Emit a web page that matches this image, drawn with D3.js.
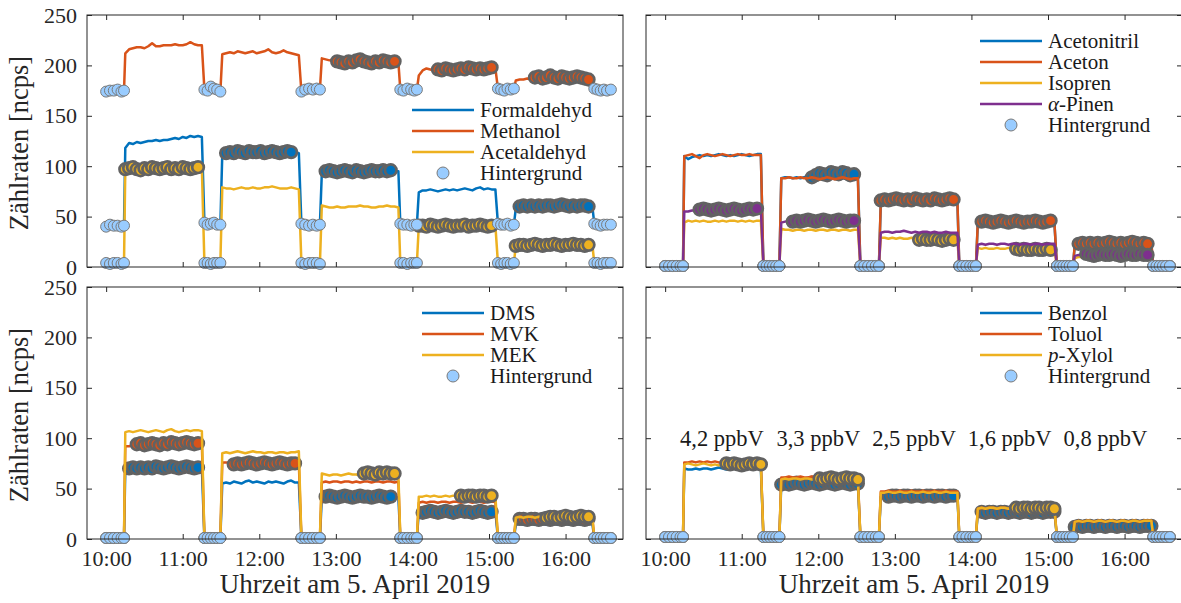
<!DOCTYPE html>
<html>
<head>
<meta charset="utf-8">
<script src="https://cdn.jsdelivr.net/npm/d3@7"></script>
<style>
  body { margin: 0; background: #fff; }
  svg { display: block; }
  svg text { font-family: 'Liberation Serif', 'DejaVu Serif', serif; }
</style>
</head>
<body>
<div id="chart"></div>
<script>

// Time axis: minutes after 10:00 (background blocks of 6 points, plateaus every 3 min)
const minutes = [
  0, 3, 6, 9, 12, 14,
  15, 18, 21, 24, 27, 30, 33, 36, 39, 42, 45, 48, 51, 54, 57, 60, 63, 66, 69, 72, 75,
  77, 79.5, 82, 84.5, 87, 89.5,
  91, 94, 97, 100, 103, 106, 109, 112, 115, 118, 121, 124, 127, 130, 133, 136, 139, 142, 145, 148, 151,
  153, 156, 159, 162, 165, 167.5,
  169, 172, 175, 178, 181, 184, 187, 190, 193, 196, 199, 202, 205, 208, 211, 214, 217, 220, 223, 226, 229,
  230.5, 233, 236, 239, 241.5, 243.5,
  245, 248, 251, 254, 257, 260, 263, 266, 269, 272, 275, 278, 281, 284, 287, 290, 293, 296, 299, 302, 305,
  307, 309.5, 312, 314.5, 317, 319.5,
  321, 324, 327, 330, 333, 336, 339, 342, 345, 348, 351, 354, 357, 360, 363, 366, 369, 372, 375, 378, 381,
  382.5, 385, 387.5, 390, 392.5, 395.5
];

// background (Hintergrund) time windows, minutes after 10:00
const bgWindows = [ [0, 14], [77, 90], [153, 168], [230, 244], [307, 320], [382, 396] ];

const hourTicks = [ 0, 60, 120, 180, 240, 300, 360 ];
const hourLabels = [ '10:00', '11:00', '12:00', '13:00', '14:00', '15:00', '16:00' ];
const countTicks = [ 0, 50, 100, 150, 200, 250 ];

// ---- top left
const formaldehyd = [
  40, 42, 41, 41, 40, 41,
  118, 123, 122, 124, 123, 124, 125, 125, 126, 125, 126, 126, 127, 128, 127, 129, 128, 130, 129, 130, 129,
  44, 42, 43, 44, 42, 42,
  112, 113, 114, 113, 115, 114, 113, 115, 114, 114, 115, 113, 114, 115, 114, 113, 114, 115, 114, 114, 113,
  43, 42, 41, 42, 41, 42,
  93, 95, 96, 95, 94, 95, 96, 95, 94, 96, 95, 94, 95, 96, 95, 95, 96, 95, 96, 95, 95,
  43, 42, 42, 41, 42, 42,
  74, 76, 76, 77, 76, 75, 76, 77, 76, 77, 76, 77, 78, 77, 76, 78, 79, 77, 78, 77, 77,
  43, 42, 42, 43, 41, 42,
  58, 60, 61, 60, 61, 60, 61, 60, 61, 61, 60, 61, 62, 61, 60, 61, 60, 61, 61, 60, 60,
  43, 42, 41, 42, 42, 42
];
const formaldehydMarks = [ [94, 147], [171, 225], [324, 378] ];

const methanol = [
  174, 175, 175, 176, 174, 175,
  212, 216, 217, 218, 218, 217, 219, 222, 219, 219, 220, 220, 220, 221, 220, 220, 221, 223, 221, 220, 220,
  176, 175, 179, 177, 176, 174,
  211, 212, 213, 212, 214, 213, 212, 213, 214, 212, 213, 214, 216, 213, 212, 213, 215, 213, 212, 211, 210,
  174, 176, 177, 176, 177, 176,
  207, 206, 205, 206, 204, 203, 202, 204, 203, 205, 206, 204, 203, 202, 204, 203, 205, 204, 203, 204, 203,
  176, 175, 177, 176, 175, 176,
  190, 195, 197, 196, 195, 196, 195, 197, 196, 195, 196, 197, 196, 198, 197, 196, 197, 196, 197, 198, 197,
  177, 176, 175, 177, 176, 177,
  185, 186, 186, 187, 186, 188, 189, 187, 188, 190, 188, 187, 189, 188, 187, 188, 189, 188, 187, 186, 186,
  177, 176, 175, 176, 175, 176
];
const methanolMarks = [ [180, 226], [259, 302], [334, 378] ];

const acetaldehyd = [
  4, 3, 4, 4, 3, 4,
  97, 98, 99, 97, 96, 98, 97, 99, 98, 97, 98, 99, 97, 98, 97, 99, 98, 97, 98, 99, 98,
  4, 4, 3, 4, 4, 4,
  79, 78, 78, 77, 78, 79, 78, 78, 79, 78, 78, 79, 79, 80, 79, 78, 78, 78, 79, 78, 77,
  4, 3, 4, 4, 4, 3,
  61, 60, 59, 59, 60, 59, 59, 60, 60, 60, 61, 60, 60, 59, 59, 60, 60, 61, 60, 60, 59,
  4, 4, 3, 4, 4, 4,
  41, 41, 40, 42, 41, 40, 41, 42, 41, 40, 41, 41, 42, 40, 41, 41, 42, 41, 40, 41, 41,
  4, 3, 4, 4, 3, 4,
  21, 22, 22, 21, 22, 23, 22, 21, 22, 22, 23, 22, 21, 22, 22, 23, 22, 22, 21, 22, 22,
  4, 4, 3, 4, 4, 4
];
const acetaldehydMarks = [ [15, 73], [245, 303], [321, 378] ];

// ---- top right
const acetonitril = [
  1, 1, 1, 1, 1, 1,
  110, 107, 109, 110, 111, 110, 111, 110, 111, 112, 111, 110, 111, 110, 111, 112, 111, 110, 111, 112, 112,
  1, 1, 1, 1, 1, 1,
  88, 89, 89, 88, 89, 88, 89, 90, 89, 91, 93, 92, 91, 94, 93, 92, 94, 93, 91, 92, 92,
  1, 1, 1, 1, 1, 1,
  64, 65, 66, 65, 66, 65, 66, 66, 65, 66, 65, 66, 66, 65, 66, 66, 65, 66, 66, 65, 65,
  1, 1, 1, 1, 1, 1,
  43, 44, 44, 43, 44, 44, 45, 44, 43, 44, 45, 44, 44, 43, 44, 45, 44, 44, 43, 44, 44,
  1, 1, 1, 1, 1, 1,
  21, 22, 23, 22, 22, 23, 22, 23, 22, 23, 22, 22, 23, 22, 22, 23, 22, 22, 23, 22, 22,
  1, 1, 1, 1, 1, 1
];
const acetonitrilMarks = [ [115, 150] ];

const aceton = [
  1, 1, 1, 1, 1, 1,
  110, 111, 112, 110, 108, 111, 112, 111, 110, 111, 112, 111, 110, 111, 112, 111, 111, 112, 111, 111, 111,
  1, 1, 1, 1, 1, 1,
  88, 88, 89, 88, 88, 89, 88, 88, 89, 88, 87, 88, 89, 88, 87, 88, 89, 88, 87, 88, 88,
  1, 1, 1, 1, 1, 1,
  66, 67, 66, 67, 68, 67, 66, 67, 66, 68, 67, 66, 67, 66, 68, 67, 66, 67, 68, 67, 67,
  1, 1, 1, 1, 1, 1,
  44, 45, 46, 45, 44, 45, 46, 45, 44, 45, 46, 45, 44, 45, 45, 46, 45, 44, 45, 46, 45,
  1, 1, 1, 1, 1, 1,
  22, 23, 24, 23, 24, 23, 24, 23, 24, 25, 24, 23, 24, 23, 24, 25, 24, 23, 24, 23, 24,
  1, 1, 1, 1, 1, 1
];
const acetonMarks = [ [169, 227], [246, 304], [323, 379] ];

const isopren = [
  1, 1, 1, 1, 1, 1,
  44, 46, 45, 46, 45, 46, 45, 45, 46, 45, 46, 45, 46, 46, 45, 46, 45, 46, 45, 46, 46,
  1, 1, 1, 1, 1, 1,
  38, 37, 37, 36, 37, 37, 36, 37, 37, 36, 37, 37, 36, 37, 37, 36, 37, 37, 36, 37, 37,
  1, 1, 1, 1, 1, 1,
  29, 29, 28, 29, 28, 29, 28, 28, 29, 28, 27, 28, 27, 27, 28, 27, 26, 27, 28, 27, 27,
  1, 1, 1, 1, 1, 1,
  19, 18, 19, 18, 18, 19, 18, 18, 19, 18, 18, 17, 18, 17, 17, 18, 17, 17, 18, 17, 17,
  1, 1, 1, 1, 1, 1,
  9, 10, 10, 9, 10, 10, 9, 10, 10, 9, 10, 10, 9, 10, 10, 9, 10, 10, 9, 10, 10,
  1, 1, 1, 1, 1, 1
];
const isoprenMarks = [ [198, 226], [275, 304] ];

const pinen = [
  1, 1, 1, 1, 1, 1,
  55, 55, 56, 56, 57, 58, 57, 56, 57, 58, 57, 56, 57, 58, 57, 56, 57, 58, 57, 58, 57,
  1, 1, 1, 1, 1, 1,
  44, 45, 46, 45, 46, 45, 46, 47, 46, 45, 46, 47, 46, 45, 46, 47, 46, 45, 46, 46, 46,
  1, 1, 1, 1, 1, 1,
  34, 35, 35, 34, 35, 35, 36, 35, 34, 35, 34, 35, 35, 34, 35, 34, 34, 35, 34, 34, 34,
  1, 1, 1, 1, 1, 1,
  22, 23, 22, 23, 23, 22, 23, 23, 22, 23, 23, 22, 23, 23, 22, 23, 23, 22, 23, 23, 23,
  1, 1, 1, 1, 1, 1,
  11, 12, 12, 13, 12, 11, 12, 13, 12, 12, 13, 12, 11, 12, 13, 12, 12, 13, 12, 12, 12,
  1, 1, 1, 1, 1, 1
];
const pinenMarks = [ [25, 73], [100, 148], [329, 379] ];

// ---- bottom left
const dms = [
  1, 1, 1, 1, 1, 1,
  69, 70, 71, 70, 71, 70, 71, 70, 72, 71, 70, 71, 72, 71, 70, 71, 72, 71, 70, 71, 71,
  1, 1, 1, 1, 1, 1,
  55, 56, 55, 57, 56, 55, 57, 58, 56, 57, 56, 55, 57, 56, 57, 56, 55, 57, 58, 56, 56,
  1, 1, 1, 1, 1, 1,
  41, 42, 43, 42, 41, 42, 43, 42, 41, 42, 43, 42, 42, 41, 42, 43, 42, 41, 42, 42, 41,
  1, 1, 1, 1, 1, 1,
  27, 26, 27, 28, 27, 26, 27, 28, 27, 26, 27, 28, 27, 27, 26, 27, 28, 27, 26, 27, 27,
  1, 1, 1, 1, 1, 1,
  14, 15, 14, 15, 15, 14, 15, 15, 14, 15, 15, 14, 15, 15, 14, 15, 15, 14, 15, 15, 15,
  1, 1, 1, 1, 1, 1
];
const dmsMarks = [ [17, 72], [170, 225], [247, 302] ];

const mvk = [
  1, 1, 1, 1, 1, 1,
  92, 92, 93, 94, 95, 93, 94, 95, 94, 93, 95, 94, 96, 95, 94, 95, 96, 95, 94, 95, 95,
  1, 1, 1, 1, 1, 1,
  76, 76, 75, 74, 75, 74, 75, 76, 75, 74, 75, 76, 75, 74, 75, 76, 75, 74, 75, 75, 75,
  1, 1, 1, 1, 1, 1,
  56, 57, 56, 57, 57, 56, 57, 57, 56, 57, 56, 57, 57, 56, 57, 57, 56, 57, 57, 56, 57,
  1, 1, 1, 1, 1, 1,
  36, 37, 36, 37, 37, 36, 37, 37, 36, 37, 37, 36, 37, 37, 36, 37, 37, 36, 37, 37, 37,
  1, 1, 1, 1, 1, 1,
  19, 20, 20, 19, 20, 20, 19, 20, 20, 19, 20, 20, 19, 20, 20, 19, 20, 20, 19, 20, 20,
  1, 1, 1, 1, 1, 1
];
const mvkMarks = [ [24, 72], [99, 148], [323, 378] ];

const mek = [
  1, 1, 1, 1, 1, 1,
  106, 107, 106, 107, 108, 107, 106, 107, 108, 107, 106, 108, 109, 107, 106, 107, 108, 107, 108, 108, 107,
  1, 1, 1, 1, 1, 1,
  85, 86, 85, 86, 87, 86, 85, 86, 87, 86, 86, 85, 86, 86, 85, 86, 86, 85, 86, 86, 87,
  1, 1, 1, 1, 1, 1,
  65, 64, 63, 64, 64, 63, 64, 65, 64, 64, 63, 65, 66, 65, 64, 66, 65, 66, 65, 65, 64,
  1, 1, 1, 1, 1, 1,
  42, 42, 43, 42, 43, 42, 42, 43, 42, 43, 42, 43, 42, 43, 43, 42, 43, 43, 42, 43, 43,
  1, 1, 1, 1, 1, 1,
  21, 22, 21, 22, 22, 21, 22, 22, 21, 22, 22, 21, 22, 23, 22, 21, 22, 23, 22, 22, 22,
  1, 1, 1, 1, 1, 1
];
const mekMarks = [ [201, 226], [278, 304], [345, 378] ];

// ---- bottom right
const benzol = [
  2, 2, 2, 2, 2, 2,
  70, 69, 69, 70, 69, 70, 70, 69, 70, 71, 70, 69, 69, 70, 69, 70, 71, 70, 71, 70, 70,
  2, 2, 2, 2, 2, 2,
  54, 55, 54, 55, 56, 55, 54, 55, 56, 55, 54, 55, 56, 55, 54, 55, 56, 55, 54, 55, 55,
  2, 2, 2, 2, 2, 2,
  42, 43, 42, 43, 43, 42, 43, 43, 42, 43, 43, 42, 43, 43, 42, 43, 43, 42, 43, 43, 43,
  2, 2, 2, 2, 2, 2,
  26, 27, 26, 27, 27, 26, 27, 27, 26, 27, 27, 26, 27, 27, 26, 27, 27, 26, 27, 27, 27,
  2, 2, 2, 2, 2, 2,
  12, 13, 12, 13, 13, 12, 13, 13, 12, 13, 13, 12, 13, 13, 12, 13, 13, 12, 13, 13, 13,
  2, 2, 2, 2, 2, 2
];
const benzolMarks = [ [91, 151], [175, 228], [246, 305], [321, 381] ];

const toluol = [
  2, 2, 2, 2, 2, 2,
  76, 76, 77, 76, 77, 76, 77, 76, 77, 76, 76, 77, 76, 77, 76, 76, 75, 76, 75, 76, 76,
  2, 2, 2, 2, 2, 2,
  61, 61, 62, 61, 61, 62, 61, 61, 62, 61, 61, 62, 61, 61, 62, 61, 61, 62, 61, 61, 61,
  2, 2, 2, 2, 2, 2,
  47, 47, 48, 47, 47, 48, 47, 47, 48, 47, 47, 48, 47, 47, 48, 47, 47, 48, 47, 47, 47,
  2, 2, 2, 2, 2, 2,
  30, 31, 30, 31, 31, 30, 31, 31, 30, 31, 31, 30, 31, 31, 30, 31, 31, 30, 31, 31, 31,
  2, 2, 2, 2, 2, 2,
  17, 18, 17, 18, 18, 17, 18, 18, 17, 18, 18, 17, 18, 18, 17, 18, 18, 17, 18, 18, 18,
  2, 2, 2, 2, 2, 2
];
const toluolMarks = [];

const pxylol = [
  2, 2, 2, 2, 2, 2,
  74, 75, 74, 73, 74, 75, 74, 73, 74, 73, 74, 75, 74, 75, 74, 73, 74, 75, 74, 75, 74,
  2, 2, 2, 2, 2, 2,
  59, 60, 59, 60, 60, 59, 60, 60, 59, 60, 60, 59, 60, 61, 60, 59, 60, 61, 60, 60, 59,
  2, 2, 2, 2, 2, 2,
  46, 46, 47, 46, 46, 47, 46, 46, 47, 46, 46, 47, 46, 46, 47, 46, 46, 47, 46, 46, 46,
  2, 2, 2, 2, 2, 2,
  30, 31, 30, 31, 31, 30, 31, 31, 30, 31, 31, 30, 31, 31, 30, 31, 31, 30, 31, 31, 30,
  2, 2, 2, 2, 2, 2,
  17, 18, 17, 18, 18, 17, 18, 18, 17, 18, 18, 17, 18, 18, 17, 18, 18, 17, 18, 18, 18,
  2, 2, 2, 2, 2, 2
];
const pxylolMarks = [ [46, 75], [121, 151], [275, 305] ];

// concentration labels in the bottom right panel
const concLabels = [ '4,2 ppbV', '3,3 ppbV', '2,5 ppbV', '1,6 ppbV', '0,8 ppbV' ];
const concMinutes = [ 44.5, 120, 195, 270, 345 ];
const concLevel = 100;

// ------------------------------------------------------------------
const blue = '#0072BD', orange = '#D95319', yellow = '#EDB120', purple = '#7E2F8E';
const bgFill = '#99CCFF';
const axisColor = '#262626';

const panels = [
  { left: 87, top: 15, xLabels: false, yLabels: true,
    legend: { x: 412, y: 110 },
    series: [
      { name: 'Formaldehyd', values: formaldehyd, marks: formaldehydMarks, color: blue },
      { name: 'Methanol', values: methanol, marks: methanolMarks, color: orange },
      { name: 'Acetaldehyd', values: acetaldehyd, marks: acetaldehydMarks, color: yellow } ] },
  { left: 646, top: 15, xLabels: false, yLabels: false,
    legend: { x: 980, y: 41 },
    series: [
      { name: 'Acetonitril', values: acetonitril, marks: acetonitrilMarks, color: blue },
      { name: 'Aceton', values: aceton, marks: acetonMarks, color: orange },
      { name: 'Isopren', values: isopren, marks: isoprenMarks, color: yellow },
      { name: '-Pinen', italic: 'α', values: pinen, marks: pinenMarks, color: purple } ] },
  { left: 87, top: 287, xLabels: true, yLabels: true,
    legend: { x: 422, y: 313 },
    series: [
      { name: 'DMS', values: dms, marks: dmsMarks, color: blue },
      { name: 'MVK', values: mvk, marks: mvkMarks, color: orange },
      { name: 'MEK', values: mek, marks: mekMarks, color: yellow } ] },
  { left: 646, top: 287, xLabels: true, yLabels: false,
    legend: { x: 980, y: 313 }, conc: true,
    series: [
      { name: 'Benzol', values: benzol, marks: benzolMarks, color: blue },
      { name: 'Toluol', values: toluol, marks: toluolMarks, color: orange },
      { name: '-Xylol', italic: 'p', values: pxylol, marks: pxylolMarks, color: yellow } ] }
];

const plot_width = 536, plot_height = 252;

const svg = d3.select( '#chart' )
  .append( 'svg' )
    .attr( 'width', 1181 )
    .attr( 'height', 603 );

const inWindows = function( t, wins ) {
  return wins.some( function( w ) { return t >= w[0] && t <= w[1]; } );
};
const idx = d3.range( minutes.length );

panels.forEach( function( p ) {
  const x = d3.scaleLinear().domain( [ -15, 405 ] ).range( [ p.left, p.left + plot_width ] );
  const y = d3.scaleLinear().domain( [ 0, 250 ] ).range( [ p.top + plot_height, p.top ] );
  const g = svg.append( 'g' );

  // axes, ticks inside on all four sides
  const styleAxis = function( sel ) {
    sel.select( '.domain' ).remove();
    sel.attr( 'font-family', null ).attr( 'font-size', null );
    sel.selectAll( '.tick line' ).attr( 'stroke', axisColor ).attr( 'stroke-width', 1 );
    sel.selectAll( '.tick text' ).attr( 'fill', '#262626' ).style( 'font-size', '22px' );
  };
  g.append( 'g' )
    .attr( 'transform', 'translate(0,' + ( p.top + plot_height ) + ')' )
    .call( d3.axisBottom( x ).tickValues( hourTicks ).tickSizeInner( -5 ).tickSizeOuter( 0 ).tickPadding( 11 )
      .tickFormat( function( d, i ) { return p.xLabels ? hourLabels[i] : ''; } ) )
    .call( styleAxis );
  g.append( 'g' )
    .attr( 'transform', 'translate(0,' + p.top + ')' )
    .call( d3.axisTop( x ).tickValues( hourTicks ).tickSizeInner( -5 ).tickSizeOuter( 0 ).tickFormat( '' ) )
    .call( styleAxis );
  g.append( 'g' )
    .attr( 'transform', 'translate(' + p.left + ',0)' )
    .call( d3.axisLeft( y ).tickValues( countTicks ).tickSizeInner( -5 ).tickSizeOuter( 0 ).tickPadding( 10 )
      .tickFormat( function( d ) { return p.yLabels ? d : ''; } ) )
    .call( styleAxis );
  g.append( 'g' )
    .attr( 'transform', 'translate(' + ( p.left + plot_width ) + ',0)' )
    .call( d3.axisRight( y ).tickValues( countTicks ).tickSizeInner( -5 ).tickSizeOuter( 0 ).tickFormat( '' ) )
    .call( styleAxis );

  // data lines and their marked (averaged) points
  p.series.forEach( function( s ) {
    const line = d3.line()
      .x( function( i ) { return x( minutes[i] ); } )
      .y( function( i ) { return y( s.values[i] ); } );
    g.append( 'path' )
      .datum( idx )
      .attr( 'd', line )
      .attr( 'fill', 'none' )
      .attr( 'stroke', s.color )
      .attr( 'stroke-width', 2.5 )
      .attr( 'stroke-linejoin', 'round' );
    g.append( 'g' )
      .selectAll( 'circle' )
      .data( idx.filter( function( i ) { return inWindows( minutes[i], s.marks ); } ) )
      .enter()
      .append( 'circle' )
        .attr( 'cx', function( i ) { return x( minutes[i] ); } )
        .attr( 'cy', function( i ) { return y( s.values[i] ); } )
        .attr( 'r', 5.8 )
        .attr( 'fill', s.color )
        .attr( 'stroke', '#626262' )
        .attr( 'stroke-width', 2.7 );
  } );

  // background points
  p.series.forEach( function( s ) {
    g.append( 'g' )
      .selectAll( 'circle' )
      .data( idx.filter( function( i ) { return inWindows( minutes[i], bgWindows ); } ) )
      .enter()
      .append( 'circle' )
        .attr( 'cx', function( i ) { return x( minutes[i] ); } )
        .attr( 'cy', function( i ) { return y( s.values[i] ); } )
        .attr( 'r', 5.5 )
        .attr( 'fill', bgFill )
        .attr( 'stroke', '#7a7a7a' )
        .attr( 'stroke-width', 1 );
  } );

  // box
  g.append( 'rect' )
    .attr( 'x', p.left ).attr( 'y', p.top )
    .attr( 'width', plot_width ).attr( 'height', plot_height )
    .attr( 'fill', 'none' )
    .attr( 'stroke', axisColor )
    .attr( 'stroke-width', 1 );

  // legend
  const rows = p.series.length + 1;
  const lg = g.append( 'g' ).attr( 'transform', 'translate(' + p.legend.x + ',' + p.legend.y + ')' );
  p.series.forEach( function( s, i ) {
    lg.append( 'line' )
      .attr( 'x1', 0 ).attr( 'x2', 62 )
      .attr( 'y1', i * 21 ).attr( 'y2', i * 21 )
      .attr( 'stroke', s.color ).attr( 'stroke-width', 2.5 );
    const t = lg.append( 'text' )
      .attr( 'x', 68 ).attr( 'y', i * 21 ).attr( 'dy', '0.33em' )
      .attr( 'fill', '#1a1a1a' )
      .style( 'font-size', '21px' );
    if ( s.italic ) t.append( 'tspan' ).style( 'font-style', 'italic' ).text( s.italic );
    t.append( 'tspan' ).text( s.name );
  } );
  lg.append( 'circle' )
    .attr( 'cx', 31 ).attr( 'cy', ( rows - 1 ) * 21 ).attr( 'r', 6 )
    .attr( 'fill', bgFill ).attr( 'stroke', '#7a7a7a' ).attr( 'stroke-width', 1 );
  lg.append( 'text' )
    .attr( 'x', 68 ).attr( 'y', ( rows - 1 ) * 21 ).attr( 'dy', '0.33em' )
    .attr( 'fill', '#1a1a1a' )
    .style( 'font-size', '21px' )
    .text( 'Hintergrund' );

  // concentration annotations
  if ( p.conc ) {
    g.selectAll( 'text.conc' )
      .data( concLabels )
      .enter()
      .append( 'text' )
        .attr( 'class', 'conc' )
        .attr( 'x', function( d, i ) { return x( concMinutes[i] ); } )
        .attr( 'y', y( concLevel ) )
        .attr( 'dy', '0.33em' )
        .attr( 'text-anchor', 'middle' )
        .attr( 'fill', '#1a1a1a' )
        .style( 'font-size', '22.5px' )
        .text( function( d ) { return d; } );
  }

  // axis titles
  if ( p.yLabels ) {
    g.append( 'text' )
      .attr( 'transform', 'translate(28,' + ( p.top + plot_height / 2 + 2 ) + ') rotate(-90)' )
      .attr( 'text-anchor', 'middle' )
      .attr( 'fill', '#262626' )
      .style( 'font-size', '26.5px' )
      .text( 'Zählraten [ncps]' );
  }
  if ( p.xLabels ) {
    g.append( 'text' )
      .attr( 'x', p.left + plot_width / 2 )
      .attr( 'y', 593 )
      .attr( 'text-anchor', 'middle' )
      .attr( 'fill', '#262626' )
      .style( 'font-size', '27px' )
      .text( 'Uhrzeit am 5. April 2019' );
  }
} );

</script>
</body>
</html>
